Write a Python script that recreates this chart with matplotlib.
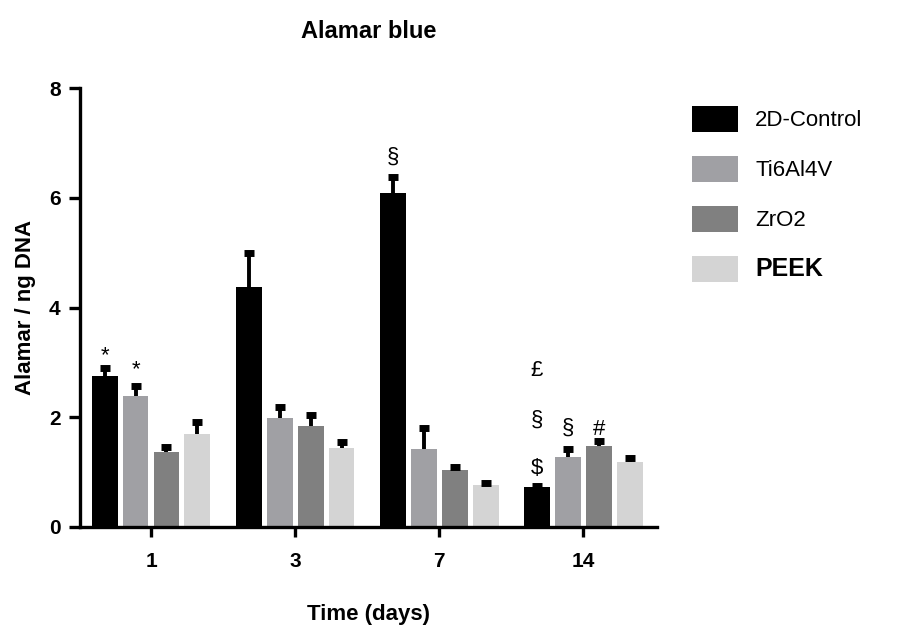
import numpy as np
import matplotlib
matplotlib.use("Agg")
import matplotlib.pyplot as plt
from matplotlib.patches import Patch

plt.rcParams['font.family'] = ['Liberation Sans', 'DejaVu Sans']

days = ['1', '3', '7', '14']
groups = ['2D-Control', 'Ti6Al4V', 'ZrO2', 'PEEK']
colors = ['#000000', '#A0A0A4', '#808080', '#D4D4D4']

# mean values per group for each day
control = [2.76, 4.37, 6.08, 0.72]
ti6al4v = [2.38, 1.98, 1.42, 1.28]
zro2 = [1.37, 1.84, 1.04, 1.47]
peek = [1.69, 1.44, 0.77, 1.18]

# upper error (SD)
control_err = [0.14, 0.62, 0.29, 0.02]
ti6al4v_err = [0.19, 0.21, 0.38, 0.14]
zro2_err = [0.09, 0.20, 0.05, 0.10]
peek_err = [0.22, 0.11, 0.03, 0.08]

means = [control, ti6al4v, zro2, peek]
errs = [control_err, ti6al4v_err, zro2_err, peek_err]

# significance marks: (day index, group index, y, symbol)
marks = [
    (0, 0, 3.13, '*'),
    (0, 1, 2.86, '*'),
    (2, 0, 6.74, '§'),
    (3, 0, 2.86, '£'),
    (3, 0, 1.95, '§'),
    (3, 0, 1.07, '$'),
    (3, 1, 1.80, '§'),
    (3, 2, 1.77, '#'),
]

fig = plt.figure(figsize=(9.11, 6.38), dpi=100)
ax = fig.add_axes([0.0878, 0.174, 0.633, 0.688])

x = np.arange(len(days))
pitch = 0.215
width = 0.18
for i, (vals, err, col) in enumerate(zip(means, errs, colors)):
    pos = x + (i - 1.5) * pitch
    ax.bar(pos, vals, width=width, color=col, zorder=2)
    eb = ax.errorbar(pos, vals, yerr=[np.zeros(len(err)), err], fmt='none',
                     ecolor='black', elinewidth=2.8, capsize=3.8, capthick=5, zorder=3)
    eb[1][0].set_visible(False)

for d, g, yv, s in marks:
    ax.text(x[d] + (g - 1.5) * pitch, yv, s, ha='center', va='center', fontsize=16)

ax.set_xlim(-0.493, 3.51)
ax.set_ylim(0, 8)
ax.set_xticks(x)
ax.set_xticklabels(days)
ax.set_yticks([0, 2, 4, 6, 8])
for sp in ['top', 'right']:
    ax.spines[sp].set_visible(False)
for sp in ['left', 'bottom']:
    ax.spines[sp].set_linewidth(2.4)
ax.tick_params(axis='y', length=8, width=2.4, labelsize=15, pad=6)
ax.tick_params(axis='x', length=7, width=2.4, labelsize=15, pad=11)
for lab in ax.get_xticklabels() + ax.get_yticklabels():
    lab.set_fontweight('bold')

ax.set_title('Alamar blue', fontsize=17, fontweight='bold', pad=36)
ax.set_xlabel('Time (days)', fontsize=16, fontweight='bold', labelpad=24)
ax.set_ylabel('Alamar / ng DNA', fontsize=16, fontweight='bold', labelpad=9)

handles = [Patch(facecolor=c, edgecolor='none') for c in colors]
leg = ax.legend(handles, groups, loc='upper left', bbox_to_anchor=(1.061, 0.958),
                frameon=False, fontsize=16, handlelength=2.1, handleheight=1.36,
                labelspacing=1.12, handletextpad=0.75, borderpad=0, borderaxespad=0)
leg.get_texts()[3].set_fontweight('bold')
leg.get_texts()[3].set_fontsize(18)

fig.savefig('out.png', dpi=100)
